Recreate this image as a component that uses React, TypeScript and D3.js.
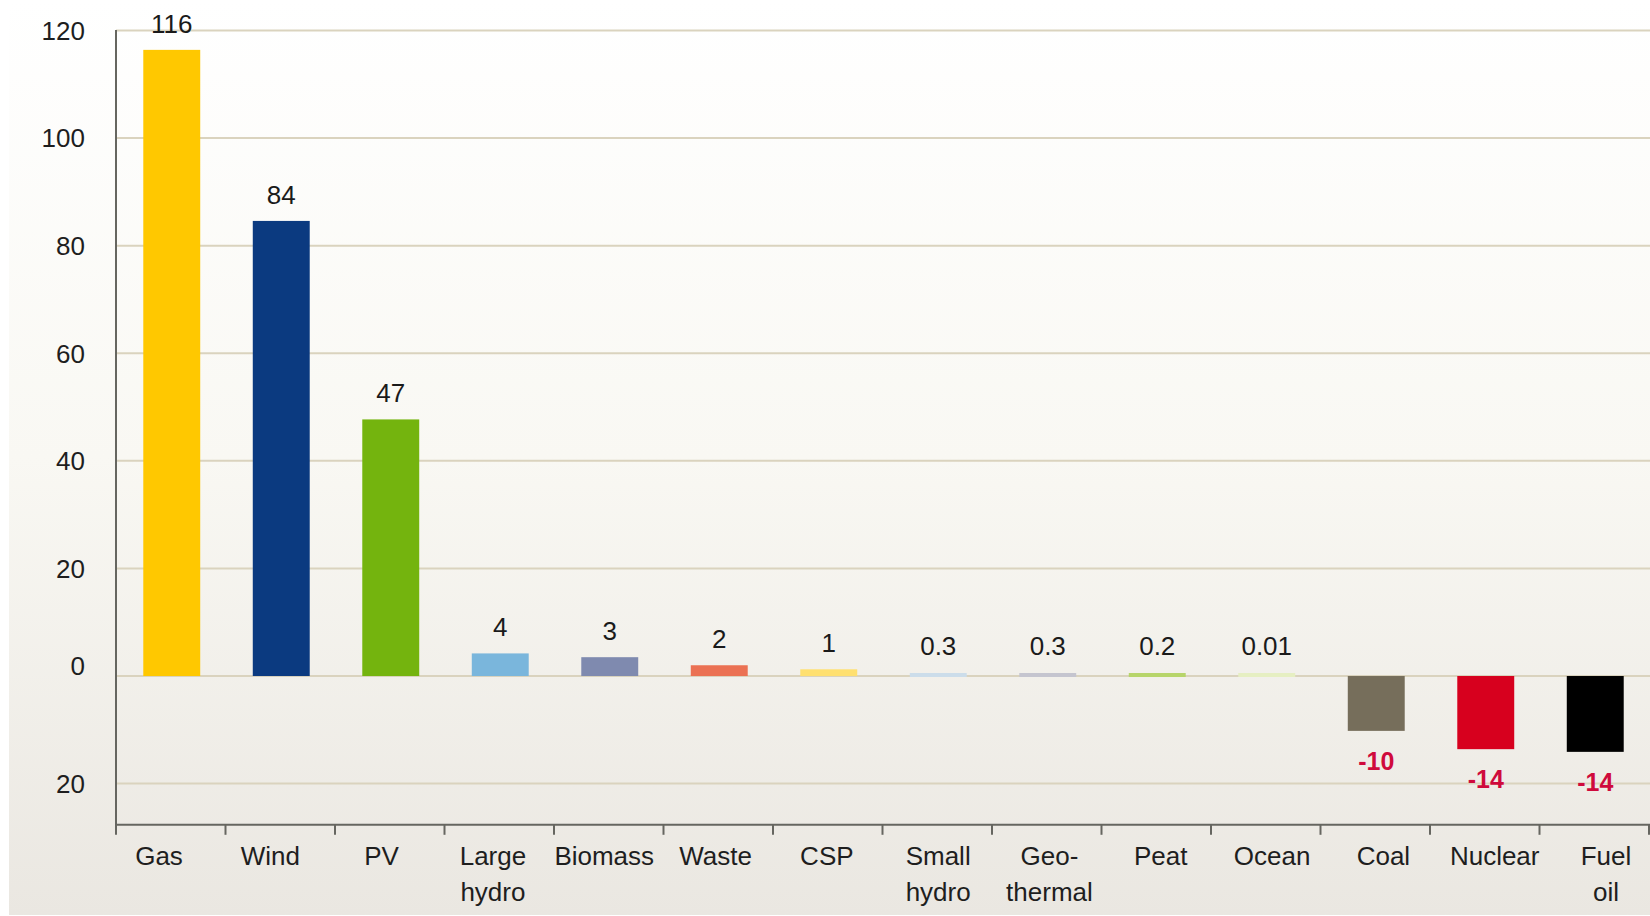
import React from "react";
import * as d3 from "d3";

const categories: string[][] = [
  ["Gas"], ["Wind"], ["PV"], ["Large", "hydro"], ["Biomass"], ["Waste"], ["CSP"],
  ["Small", "hydro"], ["Geo-", "thermal"], ["Peat"], ["Ocean"], ["Coal"], ["Nuclear"], ["Fuel", "oil"],
];
// bar heights (labels are rounded)
const values: number[] = [116.4, 84.6, 47.7, 4.2, 3.5, 2.0, 1.25, 0.3, 0.3, 0.2, 0.01, -10.2, -13.6, -14.1];
const valueLabels: string[] = ["116", "84", "47", "4", "3", "2", "1", "0.3", "0.3", "0.2", "0.01", "-10", "-14", "-14"];
const barColors: string[] = [
  "#FFC800", "#0B3A80", "#74B40E", "#7AB6DC", "#7F8AAF", "#EB7153", "#FFE070",
  "#CCDDEA", "#C5C5CF", "#B7D56A", "#E6EFC2", "#766E5B", "#D7001E", "#000000",
];
const yTicks: number[] = [120, 100, 80, 60, 40, 20, 0, -20];

const W = 1650;
const H = 916;
const FONT = "'Liberation Sans', Arial, Helvetica, sans-serif";

export default function App() {
  const keys = categories.map((c) => c.join(" "));
  const x = d3.scaleBand<string>().domain(keys).range([116, 1649]).paddingInner(0.48).paddingOuter(0.24);
  const xLabel = d3.scalePoint<string>().domain(keys).range([159, 1606]);
  const y = d3.scaleLinear().domain([-27.66, 120]).range([824.8, 30.5]);
  const y0 = y(0);
  const step = x.step();
  const minH = 4;

  return (
    <svg width={W} height={H} style={{ position: "absolute", left: 0, top: 0 }} fontFamily={FONT}>
      <defs>
        <linearGradient id="bg" x1="0" y1="0" x2="0" y2="1">
          <stop offset="0" stopColor="#FFFFFF" />
          <stop offset="0.5" stopColor="#F9F8F3" />
          <stop offset="1" stopColor="#EAE7E1" />
        </linearGradient>
      </defs>
      <rect x={0} y={0} width={W} height={H} fill="#FFFFFF" />
      <rect x={9} y={0} width={W - 9} height={915} fill="url(#bg)" />

      {/* gridlines */}
      {yTicks.map((t) => (
        <line key={"g" + t} x1={116} x2={W} y1={y(t)} y2={y(t)} stroke="#DAD3BE" strokeWidth={2} />
      ))}

      {/* y tick labels */}
      {yTicks.map((t) => (
        <text
          key={"yl" + t}
          x={85}
          y={y(t) + (t === 0 ? -10 : 0)}
          dy="0.36em"
          textAnchor="end"
          fontSize={26}
          fill="#1E1E1E"
        >
          {Math.abs(t)}
        </text>
      ))}

      {/* bars */}
      {keys.map((k, i) => {
        const v = values[i];
        const bx = (x(k) as number) + 1;
        const bw = x.bandwidth();
        let top = Math.min(y(v), y0);
        let h = Math.abs(y(v) - y0);
        if (h < minH) {
          h = minH;
          top = y0 - minH + 1;
        }
        return <rect key={"b" + k} x={bx} y={top} width={bw} height={h} fill={barColors[i]} />;
      })}

      {/* value labels */}
      {keys.map((k, i) => {
        const v = values[i];
        const cx = (x(k) as number) + 1 + x.bandwidth() / 2;
        if (v >= 0) {
          const top = Math.min(y(v), y0 - minH);
          return (
            <text key={"v" + k} x={cx} y={top - 17} textAnchor="middle" fontSize={26} fill="#1A1A1A">
              {valueLabels[i]}
            </text>
          );
        }
        return (
          <text key={"v" + k} x={cx} y={y(v) + 39} textAnchor="middle" fontSize={25} fontWeight="bold" fill="#CF0A3C">
            {valueLabels[i]}
          </text>
        );
      })}

      {/* axes */}
      <line x1={116} x2={116} y1={30} y2={y(-27.66) + 1} stroke="#666660" strokeWidth={2} />
      <line x1={115} x2={W} y1={y(-27.66)} y2={y(-27.66)} stroke="#666660" strokeWidth={2} />
      {d3.range(keys.length + 1).map((i) => {
        const tx = 116 + i * step;
        return <line key={"t" + i} x1={tx} x2={tx} y1={y(-27.66)} y2={y(-27.66) + 10} stroke="#666660" strokeWidth={2} />;
      })}

      {/* category labels */}
      {categories.map((lines, i) => (
        <text key={"c" + i} x={xLabel(keys[i])} y={865} textAnchor="middle" fontSize={26} fill="#1E1E1E">
          {lines.map((ln, j) => (
            <tspan key={j} x={xLabel(keys[i])} dy={j === 0 ? 0 : 36}>
              {ln}
            </tspan>
          ))}
        </text>
      ))}
    </svg>
  );
}
